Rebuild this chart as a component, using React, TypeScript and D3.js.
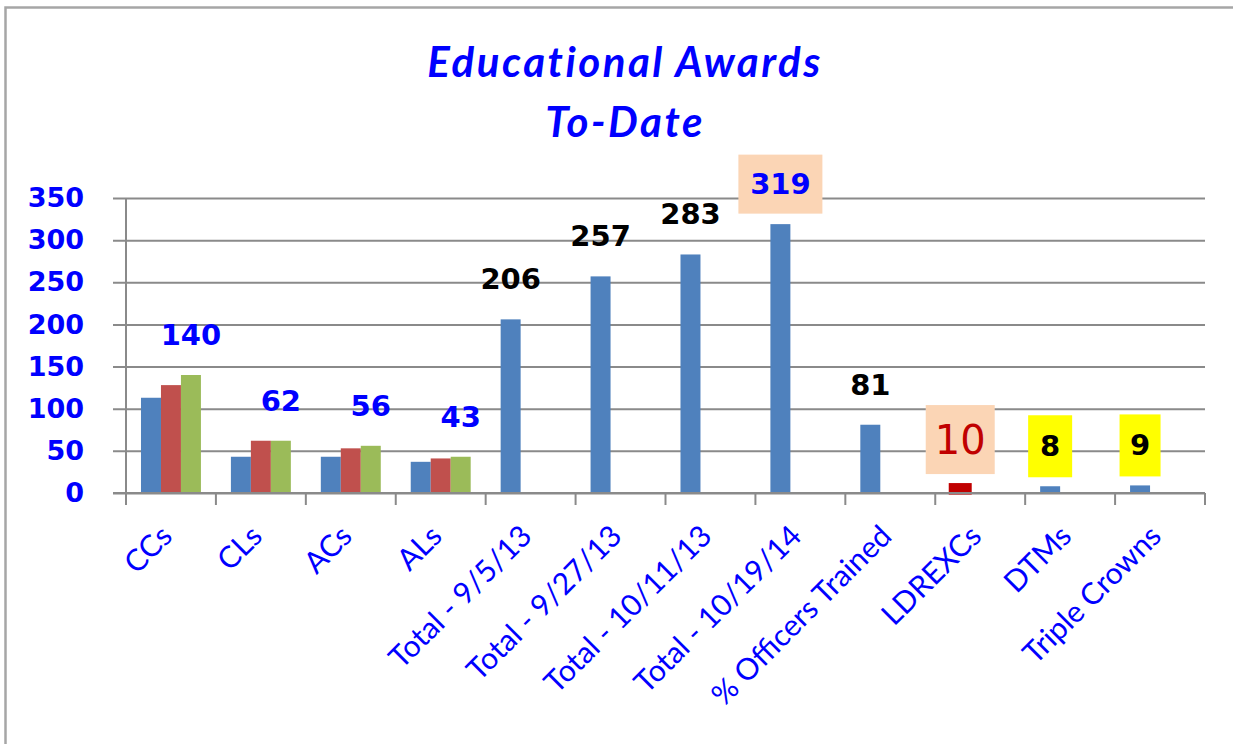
import React, { useEffect, useRef } from 'react';
import * as d3 from 'd3';

// categories and values
const categories = [
  'CCs', 'CLs', 'ACs', 'ALs',
  'Total - 9/5/13', 'Total - 9/27/13', 'Total - 10/11/13', 'Total - 10/19/14',
  '% Officers Trained', 'LDREXCs', 'DTMs', 'Triple Crowns',
];
const seriesNames = ['s1', 's2', 's3'];
const series1 = [113, 43, 43, 37, 206, 257, 283, 319, 81, 10, 8, 9];
const series2 = [128, 62, 53, 41, null, null, null, null, null, null, null, null];
const series3 = [140, 62, 56, 43, null, null, null, null, null, null, null, null];
// which series carries the data label for each category
const labelSeries = ['s3', 's3', 's3', 's3', 's1', 's1', 's1', 's1', 's1', 's1', 's1', 's1'];
const yTicks = [0, 50, 100, 150, 200, 250, 300, 350];
const titleLines = ['Educational Awards', 'To-Date'];

const colors = { s1: '#4f81bd', s2: '#c0504d', s3: '#9bbb59' };
const pointColor = { LDREXCs: '#c00000' };

// data label look per category
const labelStyle = {
  'CCs': { color: '#0000ff' },
  'CLs': { color: '#0000ff' },
  'ACs': { color: '#0000ff' },
  'ALs': { color: '#0000ff' },
  'Total - 10/19/14': { color: '#0000ff', box: '#fbd5b5', w: 84, h: 59 },
  'LDREXCs': { color: '#c00000', box: '#fbd5b5', w: 69, h: 69, size: 40, weight: 'normal', dy: -5 },
  'DTMs': { color: '#000000', box: '#ffff00', w: 44, h: 62 },
  'Triple Crowns': { color: '#000000', box: '#ffff00', w: 41, h: 62 },
};

const W = 1233;
const H = 744;
const margin = { left: 126, right: 28, top: 198, bottom: 251 };

const Chart = () => {
  const svgRef = useRef(null);

  useEffect(() => {
    const svg = d3.select(svgRef.current);
    svg.selectAll('*').remove();

    const data = categories.map((c, i) => ({
      cat: c,
      s1: series1[i],
      s2: series2[i],
      s3: series3[i],
      label: labelSeries[i],
    }));

    const x0 = d3.scaleBand().domain(categories).range([margin.left, W - margin.right]);
    const bw = x0.bandwidth();
    const x1 = d3.scaleBand().domain(seriesNames).range([bw / 6, (bw * 5) / 6]);
    const y = d3.scaleLinear().domain([0, 350]).range([H - margin.bottom, margin.top]);

    // frame
    svg.append('rect')
      .attr('x', 5.5).attr('y', 7.5)
      .attr('width', W + 20).attr('height', H + 20)
      .attr('fill', 'white')
      .attr('stroke', '#a6a6a6').attr('stroke-width', 2.5);

    // title
    svg.append('g')
      .selectAll('text')
      .data(titleLines)
      .join('text')
      .attr('x', 625)
      .attr('y', (d, i) => 77 + i * 60)
      .attr('text-anchor', 'middle')
      .attr('font-family', 'Lato, sans-serif')
      .attr('font-style', 'italic')
      .attr('font-weight', 'bold')
      .attr('font-size', 42)
      .attr('letter-spacing', 2.5)
      .attr('fill', '#0000ff')
      .text(d => d);

    // gridlines + y axis
    const yAxis = svg.append('g')
      .attr('transform', `translate(${margin.left},0)`)
      .call(d3.axisLeft(y).tickValues(yTicks).tickSizeInner(-(W - margin.right - margin.left)).tickSizeOuter(0).tickPadding(42));
    yAxis.select('.domain').remove();
    yAxis.selectAll('.tick line')
      .attr('x1', -13)
      .attr('stroke', '#8a8a8a')
      .attr('stroke-width', 2);
    yAxis.selectAll('.tick text')
      .attr('x', -42)
      .attr('font-family', 'DejaVu Sans, sans-serif')
      .attr('font-weight', 'bold')
      .attr('font-size', 27)
      .attr('fill', '#0000ff');

    // y axis line
    svg.append('line')
      .attr('x1', margin.left).attr('x2', margin.left)
      .attr('y1', y(350)).attr('y2', y(0) + 12)
      .attr('stroke', '#8a8a8a').attr('stroke-width', 2);

    // bars
    const groups = svg.append('g')
      .selectAll('g')
      .data(data)
      .join('g')
      .attr('transform', d => `translate(${x0(d.cat)},0)`);

    groups.selectAll('rect')
      .data(d => seriesNames.filter(s => d[s] != null).map(s => ({ key: s, value: d[s], cat: d.cat })))
      .join('rect')
      .attr('x', d => x1(d.key))
      .attr('y', d => y(d.value))
      .attr('width', x1.bandwidth())
      .attr('height', d => y(0) - y(d.value))
      .attr('fill', d => pointColor[d.cat] || colors[d.key])
      .attr('stroke', d => (pointColor[d.cat] ? pointColor[d.cat] : 'none'))
      .attr('stroke-width', 3);

    // x axis
    const xAxisG = svg.append('g');
    xAxisG.append('line')
      .attr('x1', margin.left - 13).attr('x2', W - margin.right)
      .attr('y1', y(0)).attr('y2', y(0))
      .attr('stroke', '#8a8a8a').attr('stroke-width', 2);
    const boundaries = categories.map(c => x0(c)).concat([W - margin.right]);
    xAxisG.selectAll('line.tk')
      .data(boundaries)
      .join('line')
      .attr('class', 'tk')
      .attr('x1', d => d).attr('x2', d => d)
      .attr('y1', y(0)).attr('y2', y(0) + 12)
      .attr('stroke', '#8a8a8a').attr('stroke-width', 2);

    xAxisG.selectAll('text')
      .data(categories)
      .join('text')
      .attr('transform', d => `translate(${x0(d) + bw / 2 + 3},${y(0) + 45}) rotate(-45)`)
      .attr('text-anchor', 'end')
      .attr('font-family', 'Lato, sans-serif')
      .attr('font-size', 30)
      .attr('fill', '#0000ff')
      .text(d => d);

    // data labels
    const labels = svg.append('g')
      .selectAll('g')
      .data(data)
      .join('g')
      .attr('transform', d => {
        const st = labelStyle[d.cat] || {};
        const cx = x0(d.cat) + x1(d.label) + x1.bandwidth() / 2;
        const cy = y(d[d.label]) - 40 + (st.dy || 0);
        return `translate(${cx},${cy})`;
      });

    labels.filter(d => labelStyle[d.cat] && labelStyle[d.cat].box)
      .append('rect')
      .attr('x', d => -labelStyle[d.cat].w / 2)
      .attr('y', d => -labelStyle[d.cat].h / 2)
      .attr('width', d => labelStyle[d.cat].w)
      .attr('height', d => labelStyle[d.cat].h)
      .attr('fill', d => labelStyle[d.cat].box);

    labels.append('text')
      .attr('text-anchor', 'middle')
      .attr('dominant-baseline', 'central')
      .attr('font-family', 'DejaVu Sans, sans-serif')
      .attr('font-weight', d => (labelStyle[d.cat] && labelStyle[d.cat].weight) || 'bold')
      .attr('font-size', d => (labelStyle[d.cat] && labelStyle[d.cat].size) || 29)
      .attr('fill', d => (labelStyle[d.cat] && labelStyle[d.cat].color) || '#000000')
      .text(d => d[d.label]);
  }, []);

  return <svg ref={svgRef} width={W} height={H} style={{ position: 'absolute', left: 0, top: 0, background: 'white' }}></svg>;
};

export default function App() {
  return <Chart />;
}
